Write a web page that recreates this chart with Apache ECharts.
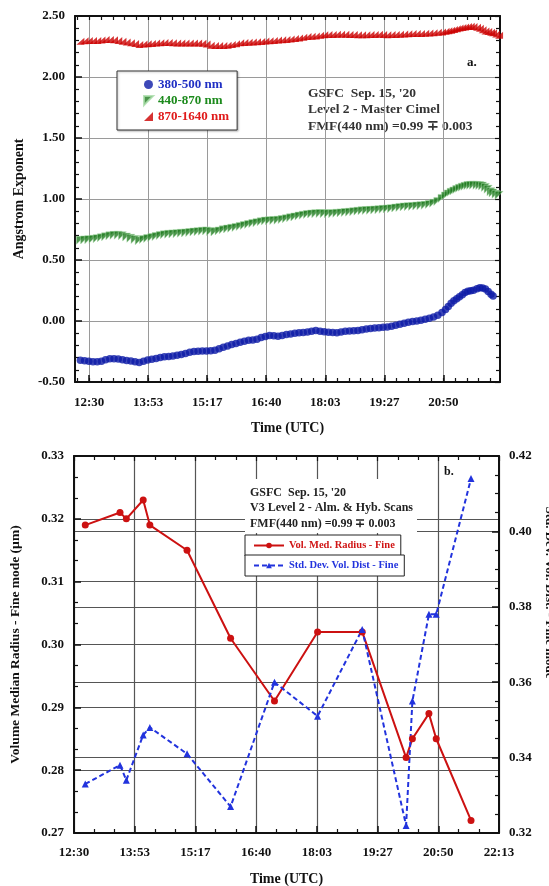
<!DOCTYPE html>
<html><head><meta charset="utf-8">
<script src="https://cdn.jsdelivr.net/npm/echarts@6/dist/echarts.min.js"></script>
<style>html,body{margin:0;padding:0;background:#fff}#c{width:549px;height:886px}</style>
</head><body><div id="c"></div>
<script>
// ---------- DATA ----------
const timeTickLabels = ['12:30','13:53','15:17','16:40','18:03','19:27','20:50','22:13'];

// Panel a: measurement times, minutes after 12:00 UTC
const measMinutes = [17.6,23.6,29.5,35.4,41.4,47.3,53.2,59.2,65.1,71.1,77.0,82.9,88.9,94.8,100.7,106.7,112.6,118.5,124.5,130.4,136.3,142.3,148.2,154.2,160.1,166.0,172.0,177.9,183.8,189.8,195.7,201.6,207.6,213.5,219.4,225.4,231.3,237.3,243.2,249.1,255.1,261.0,266.9,272.9,278.8,284.7,290.7,296.6,302.5,308.5,314.4,320.4,326.3,332.2,338.2,344.1,350.0,356.0,361.9,367.8,373.8,379.7,385.6,391.6,397.5,403.5,409.4,415.3,421.3,427.2,433.1,439.1,445.0,450.9,456.9,462.8,468.7,474.7,480.6,486.6,492.5,498.4,504.4,510.3,516.2,522.2,528.1,533.1,537.0,541.0,544.9,548.9,552.8,556.8,560.7,564.7,568.6,572.6,577.5,581.5,585.4,589.4,593.3,597.3,600.2,604.4,608.7];
// Angstrom exponent 380-500 nm (last two times have no value)
const blueValues = [-0.322,-0.326,-0.330,-0.333,-0.335,-0.330,-0.318,-0.310,-0.309,-0.312,-0.318,-0.323,-0.328,-0.334,-0.340,-0.330,-0.320,-0.314,-0.307,-0.300,-0.294,-0.290,-0.286,-0.281,-0.274,-0.266,-0.257,-0.251,-0.248,-0.246,-0.246,-0.244,-0.240,-0.228,-0.215,-0.204,-0.193,-0.184,-0.175,-0.166,-0.158,-0.156,-0.150,-0.136,-0.127,-0.119,-0.120,-0.124,-0.118,-0.110,-0.106,-0.101,-0.097,-0.094,-0.090,-0.084,-0.078,-0.083,-0.089,-0.092,-0.095,-0.096,-0.090,-0.084,-0.081,-0.079,-0.077,-0.071,-0.065,-0.061,-0.058,-0.055,-0.052,-0.050,-0.044,-0.035,-0.026,-0.018,-0.010,-0.005,0.000,0.006,0.014,0.023,0.033,0.048,0.070,0.094,0.118,0.145,0.165,0.182,0.198,0.215,0.233,0.244,0.248,0.252,0.265,0.273,0.270,0.263,0.242,0.220,0.205];
// Angstrom exponent 440-870 nm
const greenValues = [0.661,0.664,0.667,0.670,0.675,0.682,0.690,0.698,0.702,0.703,0.698,0.688,0.678,0.668,0.657,0.668,0.676,0.684,0.692,0.700,0.707,0.711,0.714,0.716,0.719,0.721,0.725,0.729,0.732,0.736,0.738,0.733,0.730,0.738,0.747,0.754,0.760,0.767,0.775,0.783,0.791,0.799,0.806,0.813,0.819,0.822,0.824,0.826,0.831,0.838,0.846,0.853,0.860,0.867,0.873,0.877,0.880,0.881,0.880,0.879,0.880,0.883,0.886,0.889,0.892,0.896,0.900,0.903,0.905,0.907,0.909,0.912,0.915,0.918,0.921,0.926,0.931,0.935,0.937,0.939,0.942,0.945,0.948,0.955,0.965,0.980,1.005,1.025,1.042,1.055,1.066,1.077,1.088,1.097,1.104,1.110,1.112,1.113,1.112,1.110,1.106,1.095,1.080,1.060,1.050,1.038,1.030];
// Angstrom exponent 870-1640 nm
const redValues = [2.294,2.298,2.300,2.300,2.300,2.303,2.308,2.307,2.305,2.300,2.294,2.287,2.281,2.275,2.267,2.270,2.272,2.275,2.278,2.280,2.282,2.283,2.281,2.279,2.278,2.278,2.278,2.278,2.278,2.276,2.270,2.260,2.258,2.258,2.258,2.261,2.266,2.272,2.280,2.283,2.285,2.286,2.288,2.292,2.295,2.298,2.300,2.303,2.306,2.308,2.311,2.315,2.320,2.326,2.331,2.334,2.337,2.342,2.346,2.348,2.349,2.350,2.350,2.350,2.349,2.348,2.347,2.347,2.347,2.348,2.349,2.350,2.349,2.347,2.348,2.349,2.350,2.352,2.355,2.356,2.356,2.356,2.358,2.360,2.363,2.366,2.369,2.374,2.379,2.383,2.389,2.395,2.401,2.406,2.410,2.414,2.417,2.414,2.408,2.400,2.388,2.378,2.372,2.367,2.362,2.352,2.342];

// Panel b: retrievals (time in decimal hours UTC)
const retrievalTimes = [12.758,13.553,13.697,14.083,14.235,15.086,16.082,17.086,18.072,19.093,20.097,20.241,20.619,20.786,21.582];
const radiusValues = [0.319,0.321,0.320,0.323,0.319,0.315,0.301,0.291,0.302,0.302,0.282,0.285,0.289,0.285,0.272];
const stdDevValues = [0.333,0.338,0.334,0.346,0.348,0.341,0.327,0.360,0.351,0.374,0.322,0.355,0.378,0.378,0.414];

// ---------- helpers ----------
const FONT = 'Liberation Serif';
const majorStep = 5000/3600;           // 1 h 23 min 20 s
const firstTick = 12.5;
const topMin = 12 + 10/60, topMax = 22 + 10/60;
const botMin = firstTick, botMax = firstTick + 7*majorStep;
const majorTop = [], minorTop = [];
for (let k = 0; k < 7; k++) majorTop.push(firstTick + k*majorStep);
for (let k = -2; k < 40; k++) { const v = firstTick + k*majorStep/5; if (v > topMin && v < topMax) minorTop.push(v); }
const fmtTime = v => timeTickLabels[Math.round((v - firstTick)/majorStep)] || '';
const measHours = measMinutes.map(m => 12 + m/60);
const zip = (a,b) => b.map((y,i)=>[a[i],y]);
const lbl = {fontFamily: FONT, fontWeight: 'bold', fontSize: 13, color: '#111'};
const frame = {show: true, onZero: false, lineStyle: {color: '#111', width: 2}};
const noLine = {show: false, onZero: false};

const chart = echarts.init(document.getElementById('c'), null, {renderer: 'canvas'});
chart.setOption({
  backgroundColor: '#ffffff',
  animation: false,
  grid: [
    {left: 75, right: 49, top: 16, height: 366, containLabel: false, outerBoundsMode: 'none'},
    {left: 74, right: 50, top: 456, height: 377, containLabel: false, outerBoundsMode: 'none'}
  ],
  xAxis: [
    { // 0 panel a main
      gridIndex: 0, type: 'value', min: topMin, max: topMax, position: 'bottom',
      axisLine: frame,
      axisTick: {show: true, inside: true, length: 7, customValues: majorTop, lineStyle: {color: '#111', width: 1.5}},
      axisLabel: Object.assign({customValues: majorTop, formatter: fmtTime, margin: 14}, lbl),
      splitLine: {show: true, lineStyle: {color: '#9a9a9a', width: 1}},
      name: 'Time (UTC)', nameLocation: 'middle', nameGap: 39,
      nameTextStyle: {fontFamily: FONT, fontWeight: 'bold', fontSize: 14, color: '#111'}
    },
    { // 1 panel a minor bottom
      gridIndex: 0, type: 'value', min: topMin, max: topMax, position: 'bottom',
      axisLine: noLine, axisLabel: {show: false}, splitLine: {show: false},
      axisTick: {show: true, inside: true, length: 4, customValues: minorTop, lineStyle: {color: '#111', width: 1.2}}
    },
    { // 2 panel a top frame
      gridIndex: 0, type: 'value', min: topMin, max: topMax, position: 'top',
      axisLine: frame, axisLabel: {show: false}, splitLine: {show: false},
      axisTick: {show: true, inside: true, length: 4, customValues: minorTop, lineStyle: {color: '#111', width: 1.2}}
    },
    { // 3 panel b main
      gridIndex: 1, type: 'value', min: botMin, max: botMax, interval: majorStep, position: 'bottom',
      axisLine: frame,
      axisTick: {show: true, inside: true, length: 7, lineStyle: {color: '#111', width: 1.5}},
      minorTick: {show: true, splitNumber: 3, length: 4, lineStyle: {color: '#111', width: 1.2}},
      axisLabel: Object.assign({formatter: fmtTime, margin: 13}, lbl),
      splitLine: {show: true, lineStyle: {color: '#555', width: 1.2}},
      name: 'Time (UTC)', nameLocation: 'middle', nameGap: 39,
      nameTextStyle: {fontFamily: FONT, fontWeight: 'bold', fontSize: 14, color: '#111'}
    },
    { // 4 panel b top frame
      gridIndex: 1, type: 'value', min: botMin, max: botMax, interval: majorStep, position: 'top',
      axisLine: frame, axisLabel: {show: false}, splitLine: {show: false},
      axisTick: {show: true, inside: true, length: 5, lineStyle: {color: '#111', width: 1.2}},
      minorTick: {show: true, splitNumber: 3, length: 4, lineStyle: {color: '#111', width: 1.2}}
    }
  ],
  yAxis: [
    { // 0 panel a left
      gridIndex: 0, type: 'value', min: -0.5, max: 2.5, interval: 0.5, position: 'left',
      axisLine: frame,
      axisTick: {show: true, inside: true, length: 7, lineStyle: {color: '#111', width: 1.5}},
      minorTick: {show: true, splitNumber: 5, length: 4, lineStyle: {color: '#111', width: 1.2}},
      axisLabel: Object.assign({formatter: v => v.toFixed(2), margin: 10}, lbl),
      splitLine: {show: true, lineStyle: {color: '#9a9a9a', width: 1}},
      name: 'Angstrom Exponent', nameLocation: 'middle', nameGap: 49, nameRotate: 90,
      nameTextStyle: {fontFamily: FONT, fontWeight: 'bold', fontSize: 14, color: '#111'}
    },
    { // 1 panel a right frame
      gridIndex: 0, type: 'value', min: -0.5, max: 2.5, interval: 0.5, position: 'right',
      axisLine: frame, axisLabel: {show: false}, splitLine: {show: false},
      axisTick: {show: true, inside: true, length: 5, lineStyle: {color: '#111', width: 1.2}},
      minorTick: {show: true, splitNumber: 5, length: 4, lineStyle: {color: '#111', width: 1.2}}
    },
    { // 2 panel b left
      gridIndex: 1, type: 'value', min: 0.27, max: 0.33, interval: 0.01, position: 'left',
      axisLine: frame,
      axisTick: {show: true, inside: true, length: 7, lineStyle: {color: '#111', width: 1.5}},
      minorTick: {show: true, splitNumber: 3, length: 4, lineStyle: {color: '#111', width: 1.2}},
      axisLabel: Object.assign({formatter: v => v.toFixed(2), margin: 10}, lbl),
      splitLine: {show: true, lineStyle: {color: '#555', width: 1.2}},
      name: 'Volume Median Radius - Fine mode (\u00b5m)', nameLocation: 'middle', nameGap: 51, nameRotate: 90,
      nameTextStyle: {fontFamily: FONT, fontWeight: 'bold', fontSize: 13.5, color: '#111'}
    },
    { // 3 panel b right
      gridIndex: 1, type: 'value', min: 0.32, max: 0.42, interval: 0.02, position: 'right',
      axisLine: frame,
      axisTick: {show: true, inside: true, length: 7, lineStyle: {color: '#111', width: 1.5}},
      minorTick: {show: true, splitNumber: 4, length: 4, lineStyle: {color: '#111', width: 1.2}},
      axisLabel: Object.assign({formatter: v => v.toFixed(2), margin: 10}, lbl),
      splitLine: {show: true, lineStyle: {color: '#555', width: 1.2}},
      name: 'Std. Dev. Vol. Dist. - Fine mode', nameLocation: 'middle', nameGap: 42, nameRotate: -90,
      nameTextStyle: {fontFamily: FONT, fontWeight: 'bold', fontSize: 13, color: '#111', padding: [0, 104, 0, 0]}
    }
  ],
  legend: [
    {
      data: [
        {name: '380-500 nm', textStyle: {color: '#1f2fc4'}},
        {name: '440-870 nm', textStyle: {color: '#1c8a1c'}},
        {name: '870-1640 nm', textStyle: {color: '#e01a1a'}}
      ],
      orient: 'vertical', left: 117, top: 71, itemGap: 3, itemWidth: 9, itemHeight: 9,
      padding: [7, 8, 7, 26], borderColor: '#333', borderWidth: 1, backgroundColor: '#fff',
      shadowColor: 'rgba(0,0,0,0.25)', shadowBlur: 2, shadowOffsetX: 1, shadowOffsetY: 1,
      textStyle: {fontFamily: FONT, fontWeight: 'bold', fontSize: 13}
    },
    {
      data: [{name: 'Vol. Med. Radius - Fine', textStyle: {color: '#d01515'}}],
      left: 245, top: 535, itemWidth: 30, itemHeight: 7, padding: [5, 6, 5, 8],
      borderColor: '#222', borderWidth: 1, backgroundColor: '#fff',
      textStyle: {fontFamily: FONT, fontWeight: 'bold', fontSize: 10.5, width: 100}
    },
    {
      data: [{name: 'Std. Dev. Vol. Dist - Fine', textStyle: {color: '#2233dd'}}],
      left: 245, top: 555, itemWidth: 30, itemHeight: 7, padding: [5, 6, 5, 8],
      borderColor: '#222', borderWidth: 1, backgroundColor: '#fff',
      textStyle: {fontFamily: FONT, fontWeight: 'bold', fontSize: 10.5, width: 100}
    }
  ],
  graphic: [
    {type: 'text', left: 308, top: 85, style: {text: "GSFC  Sep. 15, '20\nLevel 2 - Master Cimel\nFMF(440 nm) =0.99 \u2213 0.003", font: 'bold 13.5px ' + FONT, fill: '#333', lineHeight: 16.5}},
    {type: 'text', left: 467, top: 56, style: {text: 'a.', font: 'bold 13px ' + FONT, fill: '#111'}},
    {type: 'rect', shape: {x: 245, y: 479, width: 172, height: 54}, style: {fill: '#fff'}, z: 5},
    {type: 'text', left: 250, top: 485, z: 6, style: {text: "GSFC  Sep. 15, '20\nV3 Level 2 - Alm. & Hyb. Scans\nFMF(440 nm) =0.99 \u2213 0.003", font: 'bold 12px ' + FONT, fill: '#222', lineHeight: 15.5}},
    {type: 'text', left: 444, top: 466, z: 6, style: {text: 'b.', font: 'bold 12px ' + FONT, fill: '#111'}}
  ],
  series: [
    {name: '380-500 nm', type: 'scatter', xAxisIndex: 0, yAxisIndex: 0, data: zip(measHours, blueValues),
     symbol: 'circle', symbolSize: 7.5, itemStyle: {color: '#0c1aa6'}},
    {name: '440-870 nm', type: 'scatter', xAxisIndex: 0, yAxisIndex: 0, data: zip(measHours, greenValues),
     symbol: 'path://M0,0 L10,0 L0,10 Z', symbolSize: [8, 8], itemStyle: {color: '#1f7a1f', borderColor: '#a8dca8', borderWidth: 0.6}},
    {name: '870-1640 nm', type: 'scatter', xAxisIndex: 0, yAxisIndex: 0, data: zip(measHours, redValues),
     symbol: 'path://M10,0 L10,10 L0,10 Z', symbolSize: [8, 7], itemStyle: {color: '#cc0000'}},
    {name: 'Vol. Med. Radius - Fine', type: 'line', xAxisIndex: 3, yAxisIndex: 2, data: zip(retrievalTimes, radiusValues),
     symbol: 'circle', symbolSize: 7, lineStyle: {color: '#cc1111', width: 2}, itemStyle: {color: '#cc1111'}},
    {name: 'Std. Dev. Vol. Dist - Fine', type: 'line', xAxisIndex: 3, yAxisIndex: 3, data: zip(retrievalTimes, stdDevValues),
     symbol: 'triangle', symbolSize: 7, lineStyle: {color: '#2233dd', width: 2, type: [5, 3]}, itemStyle: {color: '#2233dd'}}
  ]
});
</script></body></html>
